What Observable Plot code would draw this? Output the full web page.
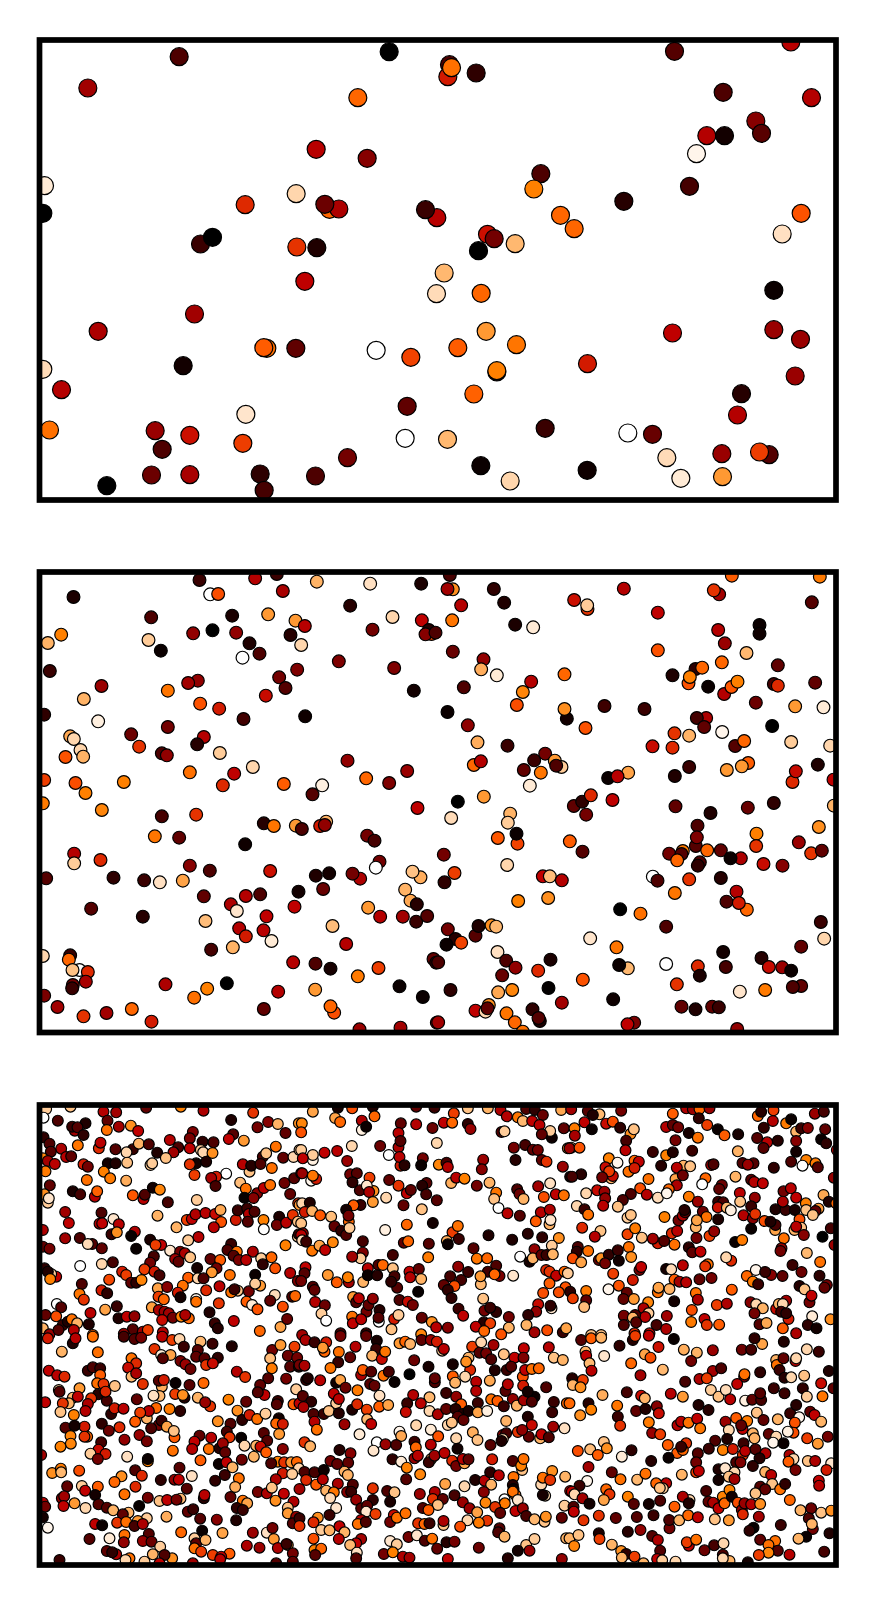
<!DOCTYPE html>
<html><head><meta charset="utf-8">
<style>html,body{margin:0;padding:0;background:#fff}svg{display:block}</style>
<script src="https://cdn.jsdelivr.net/npm/d3@7"></script>
<script src="https://cdn.jsdelivr.net/npm/@observablehq/plot@0.6"></script>
</head><body>
<div id="c"></div>
<script>
// Readings, in triples: x, y (crop pixels at 3x), colour level 0..100.
const top1L=[449,80,20,175,174,42,1079,65,0,985,203,70,860,358,48,1013,385,35,45,467,96,800,491,92,647,524,58,900,538,70,928,537,45,886,523,28,1222,563,48,1188,539,15,40,550,0,513,642,15,549,622,0,802,651,60,862,653,8,826,754,50,495,852,42,206,904,45,712,955,72,703,953,68,799,955,25,1040,961,100,1144,982,63,461,1007,5,40,1018,93,96,1079,47,649,1153,95,1133,1129,25,60,1200,72,377,1202,40,481,1216,53,398,1258,20,640,1240,62,1127,1225,100,954,1283,30,366,1335,28,481,1334,44,232,1367,0,692,1332,12,704,1381,18,858,1338,20];
const top1R=[717,64,22,1066,36,48,42,104,20,37,140,55,48,113,72,122,129,12,863,187,20,1128,203,47,961,273,35,978,310,23,814,317,47,867,317,5,783,371,98,316,431,20,295,477,75,762,469,18,565,514,10,375,556,70,416,596,70,1097,550,66,156,613,53,176,626,30,239,641,86,129,662,0,1040,612,94,26,729,86,3,791,93,137,790,70,1015,781,3,152,904,80,243,944,73,1015,899,40,1095,928,40,711,909,50,67,953,68,184,1026,5,184,1022,75,456,1001,55,1079,1038,40,115,1092,69,918,1091,10,906,1155,47,329,1195,15,36,1228,86,577,1209,100,651,1213,27,136,1307,3,1001,1274,22,972,1266,62,859,1271,40,694,1283,93,455,1321,4,224,1353,92,736,1345,96,861,1340,80];
const mid1L=[510,60,15,677,55,47,742,42,15,862,65,85,1022,71,94,1175,71,7,132,111,7,760,93,44,542,103,100,566,102,65,365,172,20,608,167,7,716,163,80,962,137,10,1089,171,92,798,182,80,826,198,48,1177,181,50,1206,222,65,1198,210,10,1188,223,35,55,249,85,95,224,75,357,240,90,394,272,3,491,220,38,549,211,0,620,218,38,783,225,10,815,255,92,1029,209,30,660,250,8,690,281,20,639,293,100,928,304,33,61,333,15,1094,324,33,803,329,33,749,352,30,505,362,38,476,369,42,768,384,22,216,378,40,415,392,73,163,417,85,1153,392,5,709,407,52,512,431,66,569,446,55,44,464,12,642,477,17,827,469,4,206,484,97,415,501,30,305,523,28,523,531,47,122,529,83,133,537,92,503,553,10,329,560,60,153,570,92,571,579,90,161,590,85,108,591,66,397,580,20,412,586,38,954,602,38,481,637,72,614,641,50,670,621,92,1133,633,40,44,660,62,138,669,65,168,699,75,283,666,75,580,676,58,763,672,68,878,676,97,849,703,22,1010,655,70,1079,669,33,40,730,74,217,750,76,1164,744,50,397,769,18,500,764,60,703,790,10,733,798,73,799,797,80,817,807,20,890,785,85,872,798,55,886,795,38,1013,827,30,1035,842,18,376,829,73,449,833,25,647,853,4,134,881,47,134,910,90,213,900,58,1050,905,30,1039,923,100,481,917,35,541,932,20,722,933,53,50,955,22,252,953,12,344,961,15,391,967,94,460,962,82,859,947,8,899,940,5,992,956,45,969,941,30,1173,952,84,1149,935,88,1127,989,85,807,995,5,881,987,27,523,1009,25,649,1008,47,692,1003,20,604,1033,45,622,1053,95,1143,1022,83,1162,1033,10,185,1046,22,795,1040,50,340,1070,10,711,1069,50,1016,1043,80,1052,1070,47,1120,1070,42,1160,1085,15,1193,1068,22,528,1083,87,909,1098,87,629,1105,47,702,1111,48,649,1129,55,726,1143,96,950,1152,47,545,1169,18,610,1162,85,40,1188,92,122,1186,15,118,1199,70,150,1230,100,129,1230,88,175,1236,58,169,1265,44,130,1275,30,128,1285,15,408,1273,45,592,1270,0,791,1207,47,858,1211,20,903,1226,6,1047,1224,62,985,1249,74,1212,1197,25,1220,1208,15,533,1286,75,494,1313,72,746,1295,47,857,1289,80,1110,1279,3,1180,1311,3,44,1307,32,84,1341,42,162,1369,60,231,1359,42,307,1347,70,366,1385,55,703,1347,25,914,1358,65,903,1339,70,990,1408,40,1113,1403,42,1222,1388,40];
const mid1R=[43,45,18,52,88,78,36,87,42,175,87,12,565,86,47,889,47,68,1153,50,74,206,128,8,77,136,47,416,120,53,456,147,60,455,136,90,667,158,50,851,103,42,835,91,60,1129,127,22,50,181,73,239,194,7,293,202,96,972,195,3,972,221,4,848,210,47,0,218,20,52,275,27,868,250,40,667,271,66,933,279,86,144,298,38,137,328,84,859,307,70,1027,316,25,184,346,96,711,346,8,780,327,12,800,323,70,387,343,70,287,365,47,759,370,66,763,351,75,262,396,76,244,435,65,818,380,3,866,402,47,888,381,67,906,365,75,1015,372,18,1027,377,58,1139,368,25,85,382,20,961,428,28,1079,439,80,1164,442,96,36,456,3,507,438,16,627,447,15,394,476,5,387,447,78,450,504,66,97,496,37,812,474,45,784,474,18,806,501,25,1010,498,0,860,516,98,717,520,60,761,527,85,126,547,84,216,557,15,899,558,22,926,543,70,711,563,58,651,559,52,1067,546,90,1184,557,92,329,581,30,296,601,15,358,602,80,378,621,90,362,617,20,265,630,25,316,638,73,115,615,70,136,604,47,938,609,68,919,619,80,874,630,80,578,638,82,518,654,3,546,649,48,761,621,15,718,648,8,1147,614,8,1071,666,58,1081,634,52,1194,659,50,283,677,96,415,738,25,440,725,12,466,706,58,531,720,50,145,710,80,67,725,0,720,739,25,937,743,27,1015,729,12,825,759,8,1195,737,85,452,764,30,224,761,85,217,788,90,47,774,93,246,851,63,243,821,3,187,834,67,403,844,68,441,875,22,786,797,20,963,821,75,781,858,22,784,832,33,962,858,60,1150,801,78,1090,847,40,742,873,74,701,881,30,738,882,22,815,871,70,856,871,25,725,901,70,916,895,45,885,895,3,1127,880,60,1159,872,25,25,884,30,793,907,20,787,917,12,984,912,52,1041,917,35,215,915,92,57,939,62,27,967,12,322,949,50,343,949,87,379,961,47,652,950,100,666,962,20,761,958,60,856,954,10,718,999,73,248,1023,75,338,1014,78,903,995,47,873,1025,20,934,1049,70,910,1029,55,554,1048,0,615,1061,72,692,1100,20,1156,1086,15,168,1096,78,182,1100,86,120,1127,22,129,1098,8,37,1108,30,60,1137,10,33,1154,3,77,1148,63,464,1135,95,1166,1136,92,543,1162,73,186,1176,94,1097,1160,25,863,1176,5,978,1194,10,212,1202,20,240,1223,38,345,1199,7,8,1207,20,1000,1221,52,1040,1222,40,1067,1232,3,871,1221,18,787,1219,58,793,1247,7,577,1225,86,551,1215,3,692,1212,100,200,1246,27,308,1232,58,442,1259,66,724,1273,60,45,1290,12,339,1284,1,230,1290,76,188,1297,83,989,1290,74,913,1295,95,1097,1278,25,1072,1281,20,533,1318,4,379,1328,42,738,1340,25,780,1348,8,830,1340,25,850,1342,15,120,1352,50,160,1335,78,150,1355,92,156,1345,25,213,1360,73,291,1348,12,313,1383,8,309,1374,22,238,1387,70,262,1415,72,596,1388,32,576,1393,50,905,1407,38,8,1387,42];
const low1A=[50,42,90,123,35,88,222,50,47,260,52,42,350,38,25,454,35,75,522,47,45,671,53,60,42,68,100,85,77,20,234,77,25,232,105,72,268,95,42,304,92,78,326,108,50,136,107,42,128,95,15,168,85,8,144,97,22,162,120,12,605,75,8,716,81,35,745,87,85,684,97,30,768,114,25,808,85,78,42,127,12,60,146,20,95,161,44,64,170,22,145,151,73,208,160,58,213,143,48,258,163,22,310,163,15,328,146,85,358,148,20,291,172,92,421,135,47,490,111,33,481,130,32,519,140,12,552,142,20,481,160,50,446,157,20,432,172,42,383,173,8,409,189,88,611,118,22,598,132,50,643,137,80,514,165,90,521,172,92,549,174,78,739,155,72,700,185,20,710,175,88,110,186,48,125,184,25,40,190,76,55,198,42,76,207,48,48,229,74,162,208,55,175,215,30,235,205,5,258,205,8,293,203,88,363,210,90,368,205,90,223,230,75,242,250,74,290,257,84,172,255,72,500,205,5,530,200,8,481,208,60,495,240,62,590,236,100,560,245,55,545,249,44,660,230,88,640,208,48,665,212,10,693,207,20,727,219,72,761,188,25,792,186,92,810,165,90,558,273,18,765,264,28,794,250,22,815,235,15,61,271,25,45,298,78,55,323,90,58,310,95,130,289,7,152,298,18,196,305,47,203,289,69,310,301,67,342,312,48,346,299,20,370,278,5,391,284,76,415,322,18,502,315,90,632,263,87,649,281,72,645,308,2,683,295,35,672,309,35,703,279,50,722,270,72,782,297,25,806,325,60,107,351,42,118,384,50,216,353,20,210,386,48,218,385,50,252,372,95,268,388,48,384,362,85,472,375,62,487,372,50,498,358,46,528,354,48,557,357,52,573,345,83,575,381,66,553,397,48,619,375,55,625,346,15,653,340,15,658,357,47,655,380,22,675,350,20,702,375,75,703,403,100,749,365,8,742,390,30,770,383,48,790,360,60,805,380,88,40,405,45,107,430,42,151,429,20,188,447,22,175,447,93,217,460,25,246,418,15,262,412,78,316,410,45,305,423,2,362,434,7,395,450,50,378,450,62,320,461,2,441,397,85,476,436,90,507,426,47,40,455,25,60,461,30,768,451,75,805,425,90,808,418,15,605,447,15,422,467,95,452,470,30,466,475,45,437,492,42,447,500,25,482,487,88,373,484,18,362,503,30,594,465,20,622,470,72,670,470,45,612,482,22,628,495,32,650,495,48,695,490,90,726,487,70,700,508,12,737,520,66,543,492,25,572,495,68,250,502,18,217,507,92,152,513,100,45,520,12,80,545,50,65,537,90,55,530,8,62,552,75,503,519,6,561,520,30,547,532,80,601,540,72,345,523,62,375,530,55,390,541,18,278,530,55,290,540,62,239,554,64,305,563,25,320,563,12,336,555,76,476,548,68,505,550,92,522,550,20,782,534,47,805,558,33,677,539,3,157,567,20,150,597,73,163,614,60,216,586,55,233,595,12,385,580,82,413,576,35,460,572,72,445,593,55,530,586,58,570,574,48,625,587,88,605,592,72,615,583,15,658,589,30,692,572,80,677,566,90,736,600,93,788,605,20,797,603,70,82,627,100,95,637,22,48,660,25,80,664,65,183,654,48,227,644,82,262,634,15,387,605,62,403,613,70,367,637,81,453,607,5,500,612,98,500,620,72,568,625,60,651,620,68,668,630,96,684,643,66,722,617,25,760,635,65,40,700,85,100,690,15,115,680,8,127,673,72,143,685,85,133,705,47,60,718,40,87,705,22,178,688,8,190,720,70,267,670,8,292,665,50,315,664,38,388,645,45,405,650,40,418,655,42,430,668,30,398,675,52,455,665,75,478,670,70,467,660,45,540,652,8,613,678,50,556,685,15,565,700,10,691,708,70,753,696,82,773,672,27,400,712,47,310,703,22,340,710,40,355,705,62,283,716,35];
const low1B=[40,50,82,115,38,5,158,40,65,220,35,8,350,35,25,405,38,15,505,40,88,565,40,85,603,45,45,680,42,20,706,45,12,785,45,83,7,85,76,107,69,82,122,81,70,187,77,45,225,64,70,187,105,97,200,95,3,304,85,25,350,88,47,399,99,28,433,83,50,463,55,62,458,83,70,505,87,12,513,102,40,622,64,47,655,67,73,670,78,86,698,78,50,730,60,27,720,90,48,606,111,20,615,109,90,757,128,4,752,108,90,727,118,25,793,100,25,5,112,66,297,114,48,297,157,44,303,138,22,242,153,28,157,153,92,412,144,92,643,158,30,677,150,18,700,164,25,715,165,30,805,160,80,815,158,90,5,165,90,40,195,97,40,180,90,75,173,50,113,168,48,10,190,50,143,198,40,268,180,100,303,212,55,300,186,48,370,190,30,315,211,10,365,211,3,418,209,76,441,203,18,445,216,47,551,194,40,547,223,35,648,195,10,727,195,25,741,200,60,790,215,40,8,235,40,35,257,98,50,252,55,40,242,73,152,238,30,172,235,22,159,262,12,210,248,62,269,255,25,297,272,60,181,286,20,222,288,78,202,272,95,209,291,45,322,295,50,334,285,25,381,264,22,368,272,10,380,298,18,412,316,22,455,264,84,470,248,48,495,251,75,532,272,30,570,263,85,653,283,20,660,297,28,672,312,85,590,293,73,584,312,88,716,274,42,733,306,65,752,265,94,769,298,50,793,301,72,812,245,10,220,321,80,260,308,92,312,331,25,367,343,88,597,339,100,624,355,48,661,362,22,724,352,47,751,344,45,750,388,85,753,375,95,709,379,68,0,330,80,8,325,92,31,323,8,16,351,55,38,348,85,62,361,67,95,365,87,183,330,15,162,331,68,140,344,5,148,380,70,147,362,30,400,384,5,322,389,70,459,412,62,475,393,72,105,394,25,125,407,12,140,420,20,150,399,90,5,385,88,257,405,97,567,421,8,638,434,8,685,416,10,728,427,12,778,429,78,10,415,42,5,420,48,8,436,93,20,440,15,190,439,18,313,443,25,326,439,70,388,446,22,442,438,84,445,448,3,478,432,15,38,467,73,60,452,82,77,465,50,100,442,76,190,473,33,183,490,90,158,485,42,280,480,17,386,487,74,522,460,22,532,491,73,563,490,70,662,485,100,690,500,6,705,463,38,700,490,85,726,480,25,741,480,15,757,452,90,760,478,85,18,517,50,15,535,22,5,558,30,205,520,48,237,510,20,250,510,70,280,520,88,330,530,50,358,522,25,332,547,47,365,552,85,476,515,38,590,512,20,565,530,18,600,543,32,585,538,70,641,542,95,506,531,15,85,540,80,148,562,42,112,562,68,145,547,75,191,561,85,205,541,3,233,541,10,293,578,22,285,544,18,275,560,12,452,544,18,485,555,18,544,568,86,543,544,80,465,573,65,433,570,25,445,585,12,356,590,2,740,525,58,750,530,60,770,542,50,795,530,70,750,565,68,805,535,90,798,577,66,778,592,65,731,594,65,812,590,12,40,575,20,45,585,25,47,621,47,76,631,28,161,606,80,170,622,22,178,610,48,201,650,30,207,630,25,220,611,38,300,615,20,325,620,52,340,630,30,456,609,12,551,611,88,66,656,90,80,677,100,158,665,72,160,685,50,185,673,48,240,645,10,238,680,100,237,668,22,284,672,55,297,660,90,276,703,88,367,668,25,397,681,78,410,697,48,445,698,35,477,641,15,491,662,50,555,647,30,590,651,12,572,638,15,628,666,30,716,628,52,710,650,38,686,660,12,756,640,95,753,632,12,553,682,10,572,685,62,529,695,50,554,708,70,628,698,85,681,690,85,705,712,42,743,706,65,790,712,15,605,718,66,800,700,82,123,715,20,200,715,15,8,720,42,365,718,76];
const low1C=[5,43,42,55,48,22,90,58,86,70,60,8,155,47,30,310,56,68,350,40,45,370,43,40,390,42,70,420,40,40,565,63,70,575,50,10,612,46,62,736,56,40,763,50,18,45,82,50,67,103,3,15,100,74,110,86,52,130,80,65,152,98,12,183,117,78,193,103,88,290,96,47,310,90,25,326,97,30,388,70,12,413,90,62,445,103,3,506,118,6,465,121,68,610,78,47,583,98,12,650,85,74,665,73,3,680,110,85,695,100,15,715,99,35,767,103,25,16,122,44,170,137,18,168,166,48,318,136,30,358,114,6,385,128,72,680,138,35,563,129,22,593,142,48,625,137,10,582,159,22,755,133,3,770,145,12,802,165,50,0,160,40,30,158,66,250,171,15,368,167,15,505,169,85,680,170,5,290,181,75,310,172,8,118,190,75,144,203,98,195,197,70,208,200,50,275,212,10,342,212,85,362,214,88,322,218,48,425,210,45,432,208,20,519,204,20,552,205,22,535,209,40,613,218,12,665,200,20,710,195,75,699,212,100,738,205,74,745,217,22,108,217,52,125,250,85,130,243,52,119,229,62,98,247,30,177,230,72,195,219,55,237,252,72,318,252,82,340,241,28,322,271,45,298,283,70,408,250,70,398,268,100,457,270,28,449,282,25,498,245,85,545,254,22,554,261,47,580,265,50,35,238,10,8,245,18,793,248,38,83,286,52,105,290,40,107,310,38,101,332,48,50,295,92,212,280,65,184,297,20,232,299,47,265,308,93,292,295,98,160,315,20,145,335,88,358,305,74,385,320,40,511,294,48,556,308,38,512,320,88,642,289,30,664,280,48,680,308,50,762,300,83,778,320,8,800,325,70,22,333,92,45,343,15,56,359,72,174,368,90,184,360,88,285,366,75,327,376,30,340,362,45,347,352,25,345,345,10,400,350,28,411,366,72,379,397,85,382,376,82,446,320,15,461,322,20,445,337,53,472,338,86,484,346,97,446,373,8,522,361,47,545,334,15,550,370,35,557,357,60,618,343,8,648,345,15,676,345,6,709,325,75,710,345,88,747,341,80,738,348,25,730,360,88,640,320,45,585,378,65,617,405,82,618,390,18,603,380,8,545,401,3,690,373,65,675,405,85,695,398,88,680,395,48,703,420,35,784,400,18,38,398,58,93,408,88,76,425,47,174,418,63,197,400,74,217,428,88,265,445,55,250,431,42,284,438,22,307,415,58,323,408,48,315,449,72,381,429,30,420,423,62,434,409,38,497,441,3,518,435,74,643,430,72,759,425,0,795,450,40,25,456,20,22,470,12,10,490,65,56,468,72,35,502,82,88,495,25,95,490,78,118,479,12,107,505,30,145,466,15,148,497,5,178,456,72,185,486,78,358,457,12,368,472,25,393,470,50,636,460,40,633,468,30,712,474,86,485,497,58,470,487,92,752,501,72,210,525,30,215,516,50,131,536,62,190,555,55,290,522,6,305,523,93,340,511,48,415,508,72,407,514,60,426,549,30,390,553,25,559,525,98,605,540,35,587,531,15,532,543,70,550,560,74,566,568,15,669,510,15,696,531,28,639,543,25,750,542,12,315,554,68,330,560,42,350,562,48,265,592,72,267,578,82,300,582,85,117,583,98,148,572,66,487,584,68,379,594,72,385,614,45,772,570,30,765,578,25,690,573,10,705,583,88,720,622,30,726,602,50,50,588,74,10,610,62,50,616,25,44,636,87,172,593,25,162,612,25,193,612,80,314,619,5,236,622,76,222,640,45,237,655,90,227,666,48,163,662,30,197,660,20,190,668,85,163,690,20,200,682,22,292,663,42,261,690,18,290,702,45,367,645,65,365,681,74,405,672,50,412,690,60,449,689,68,442,630,62,472,626,45,543,622,35,560,628,92,580,640,85,555,655,30,570,688,22,591,684,83,620,642,52,628,627,85,650,617,42,640,627,92,635,650,18,657,672,55,650,655,12,728,664,96,715,690,12,741,700,5,783,673,78,65,720,88,95,720,88,195,715,58,240,715,52,640,700,68,680,715,45];
const low2A=[55,10,55,130,25,8,138,10,48,190,5,72,283,5,18,315,12,22,335,8,30,398,5,48,428,15,62,450,12,92,513,20,86,549,26,15,607,34,8,97,50,85,205,52,72,375,42,60,463,35,15,395,60,96,423,60,82,400,70,22,505,45,22,500,65,25,525,70,22,565,68,12,530,90,60,550,85,52,453,78,30,468,88,40,483,102,28,306,70,72,320,85,58,296,98,52,306,125,86,320,115,45,175,107,15,190,97,20,212,100,15,212,120,68,58,107,50,83,121,48,105,125,58,622,110,47,647,126,60,728,45,30,753,30,80,795,35,62,722,70,87,775,62,28,803,68,30,782,95,22,808,95,10,727,100,74,716,130,22,770,131,30,203,145,72,222,147,60,256,153,88,150,160,80,340,147,60,397,155,84,388,137,22,403,135,55,438,144,2,480,150,22,522,144,70,88,165,90,90,170,22,130,188,86,145,185,50,118,205,85,100,205,60,93,231,88,47,202,50,206,178,10,185,190,60,232,197,18,175,207,45,168,228,47,228,170,58,322,193,25,390,183,86,372,182,94,465,188,10,437,177,62,460,180,78,505,188,85,542,214,60,527,202,40,597,194,75,650,200,25,692,150,25,705,180,50,685,172,22,745,198,15,742,208,22,792,208,68,800,163,90,810,205,50,133,240,75,245,237,12,255,220,55,282,221,48,380,219,70,420,222,74,452,228,12,352,250,85,358,228,48,332,233,62,317,260,68,388,270,30,396,257,15,365,280,20,412,275,82,435,307,68,433,288,88,165,275,55,108,278,22,135,272,5,173,305,70,165,305,60,123,303,76,124,326,76,93,335,75,217,266,12,238,287,28,270,277,58,285,314,38,330,300,40,352,319,30,565,259,78,624,227,78,638,255,12,660,240,55,683,252,72,708,236,90,748,250,5,740,265,70,760,267,55,603,266,20,592,290,18,600,307,60,749,297,80,703,294,22,713,317,22,510,302,25,545,308,48,495,320,50,488,342,47,538,342,72,635,308,2,645,332,92,570,340,10,580,325,40,587,352,25,680,332,85,693,335,52,710,352,68,673,365,85,760,342,35,215,322,18,207,344,52,228,357,55,183,356,90,205,372,30,430,347,72,293,365,94,355,379,75,355,372,3,513,376,68,35,360,42,568,387,3,591,382,50,609,397,85,637,374,28,745,380,75,725,385,20,764,382,60,785,382,80,802,381,70,808,400,92,68,414,78,94,401,74,95,412,86,149,407,65,317,406,20,337,422,58,276,424,78,255,441,70,450,398,22,487,423,94,628,430,72,760,415,55,788,417,90,739,433,45,394,435,12,435,434,38,448,434,50,557,437,12,586,420,15,472,461,22,617,456,84,113,454,25,157,453,90,167,467,50,205,455,68,318,455,58,285,478,72,197,480,5,97,490,38,104,484,42,135,505,80,102,513,50,40,503,47,355,488,30,523,490,10,525,480,48,453,491,86,390,498,88,413,495,50,441,494,30,603,486,25,685,471,30,712,475,45,727,458,88,763,476,50,738,497,78,792,500,45,47,515,30,168,519,92,207,508,22,232,518,22,251,526,85,329,513,2,640,497,72,653,505,82,622,519,12,640,525,15,775,518,88,775,535,80,800,545,38,475,530,25,491,523,15,411,545,84,512,551,22,562,554,35,620,556,8,790,565,22,810,550,15,40,547,5,297,533,85,280,538,25,263,563,60,290,561,72,352,550,90,325,558,80,315,573,18,340,567,45,197,567,50,218,571,3,55,578,98,518,587,3,455,592,70,579,594,82,670,593,40,712,593,94,729,579,30,733,612,80,180,612,22,240,610,96,285,600,72,283,622,38,358,597,22,340,618,40,366,620,28,495,610,90,500,625,25,528,615,85,495,640,72,515,650,62,652,632,45,690,638,40,745,639,45,775,630,80,771,627,15,790,655,30,232,648,25,260,658,45,248,652,12,392,635,90,370,658,85,428,670,78,405,660,20,300,670,72,288,675,92,345,680,90,90,675,15,550,660,62,600,656,68,575,665,50,572,673,48,740,685,22,790,680,25,490,685,42,390,685,50];
const low2B=[18,15,45,45,22,15,80,22,55,75,50,70,70,38,80,123,3,30,118,51,72,168,35,47,200,3,25,232,17,6,230,42,15,218,62,85,247,72,52,257,50,73,152,67,25,116,82,15,93,99,73,300,25,80,317,20,70,332,27,85,366,15,25,394,15,40,412,20,55,428,47,90,433,42,48,344,76,28,387,95,6,518,35,62,545,22,92,540,53,22,560,55,30,575,73,20,582,30,42,613,58,88,645,68,50,673,40,50,672,68,33,748,37,47,763,68,88,790,75,85,0,90,30,15,92,45,185,120,45,190,105,68,215,110,22,252,122,72,268,110,18,285,141,2,330,118,0,20,135,15,25,130,8,62,136,48,110,143,5,122,135,82,138,158,27,174,166,74,212,147,22,225,152,25,460,88,6,512,105,58,507,68,85,500,80,78,460,124,68,467,143,85,497,125,92,406,142,20,406,130,25,530,140,48,571,137,83,586,106,8,622,105,15,635,95,22,670,125,66,677,105,50,697,102,72,718,100,70,740,157,20,618,168,22,625,148,47,530,168,47,671,152,55,10,183,22,35,200,12,12,216,45,103,176,50,110,205,90,118,192,48,158,224,8,173,208,58,202,224,62,240,182,94,239,215,68,266,210,82,440,174,15,470,185,38,341,180,47,390,187,86,323,205,15,364,205,48,319,231,52,575,193,72,594,198,68,640,192,38,613,214,15,535,204,15,652,212,85,673,196,42,705,185,3,685,170,5,697,200,20,763,201,15,802,205,70,42,237,20,45,260,47,52,284,72,73,237,15,88,228,88,118,235,10,135,268,40,203,253,86,215,267,50,390,228,92,415,238,45,440,222,25,485,208,68,468,222,10,490,237,10,507,228,6,475,245,22,445,270,92,457,263,88,492,255,25,535,232,82,563,228,97,758,232,15,620,258,85,685,245,8,697,270,52,761,275,42,795,280,94,655,291,60,722,310,85,726,298,50,748,307,20,688,305,25,668,285,38,610,300,35,620,295,18,180,298,96,300,290,98,305,303,83,350,271,92,394,284,96,416,304,66,520,292,84,534,315,88,470,310,92,610,312,92,606,318,8,573,330,22,15,322,60,32,334,85,232,322,100,222,347,95,258,328,40,290,330,20,345,320,15,349,337,70,394,329,47,474,341,5,120,345,10,153,355,35,93,378,30,113,387,25,146,383,25,279,373,12,305,380,96,345,370,38,355,362,48,395,372,85,388,382,15,405,362,42,435,354,48,458,377,58,470,393,30,495,385,82,490,372,48,507,373,25,578,373,55,640,378,20,668,405,88,665,392,75,672,372,72,322,398,75,362,418,76,135,410,85,145,420,85,15,411,20,45,412,18,73,405,4,320,433,22,20,435,58,50,449,68,70,433,47,115,446,44,160,449,20,437,447,82,527,435,8,495,454,92,555,437,47,575,449,85,572,412,12,598,421,48,642,426,72,725,449,92,730,428,72,758,408,78,752,435,60,797,425,85,0,462,42,143,471,35,80,467,85,103,472,73,92,489,93,155,470,15,220,460,60,263,468,20,285,472,88,170,494,40,220,495,12,272,500,7,361,477,40,406,471,45,400,492,60,430,492,25,465,481,18,490,502,40,553,471,35,640,450,10,642,462,4,648,480,70,737,482,92,730,480,6,812,468,50,640,470,72,615,493,100,655,495,95,616,505,74,415,510,88,558,503,76,587,516,60,510,520,40,533,532,82,110,519,95,90,540,15,185,520,22,203,512,25,200,530,95,228,537,62,370,519,22,387,525,68,648,528,50,670,520,40,680,543,18,602,534,25,735,560,88,705,553,86,739,545,78,795,512,90,787,548,25,55,548,78,42,562,58,0,573,60,65,585,90,90,586,85,120,574,50,135,592,85,185,555,48,175,567,72,199,561,20,283,540,52,272,561,30,292,548,72,318,535,72,356,565,60,375,567,70,390,565,15,432,570,88,432,558,45,504,556,92,563,557,60,538,563,74,482,575,65,42,611,65,118,612,47,185,612,42,170,625,50,152,630,86,327,606,30,352,601,95,376,617,20,398,611,72,600,580,22,596,592,20,615,605,85,680,630,88,705,612,90,690,647,40,800,610,85,272,618,95,292,628,90,413,641,25,441,622,10,465,620,30,538,638,28,655,647,5,45,645,75,65,641,70,47,660,22,172,653,94,170,670,22,253,657,30,280,652,75,310,665,45,330,668,42,445,672,50,625,670,10,787,672,38];
const low2C=[35,15,22,65,10,68,95,8,85,150,32,12,190,15,10,197,3,62,238,2,50,267,36,53,313,12,2,343,44,84,382,53,85,430,46,40,517,44,28,545,44,18,578,27,82,555,10,12,643,20,8,712,43,92,748,50,15,48,50,85,50,62,50,104,63,95,60,85,86,66,107,48,185,85,70,226,58,82,243,68,65,365,78,30,280,104,86,213,121,42,430,108,42,455,100,20,524,125,30,525,118,72,572,112,12,390,132,45,412,130,62,347,140,18,620,75,85,622,90,72,642,70,25,678,78,45,680,70,92,630,105,15,645,128,10,665,127,92,704,122,88,778,108,8,755,145,52,700,160,12,712,185,90,613,160,15,645,175,15,8,130,10,40,135,62,10,150,85,33,157,78,99,180,84,172,172,18,215,182,52,226,190,85,304,176,47,340,185,80,424,165,90,447,185,88,469,165,93,482,193,48,503,147,50,527,197,97,548,194,25,575,195,18,572,175,22,759,184,73,792,160,25,0,205,70,57,205,10,65,224,75,32,241,78,143,212,73,145,245,15,152,272,60,200,228,25,228,222,8,262,214,35,268,235,52,238,262,74,248,294,40,272,298,62,387,210,8,417,225,10,662,235,15,680,210,10,689,247,98,722,230,25,735,240,50,755,260,85,676,263,66,672,293,65,562,233,88,582,255,25,625,253,85,468,260,40,500,249,68,533,258,74,519,282,50,515,271,25,478,285,92,324,271,47,335,260,48,357,263,72,383,251,50,392,280,73,550,295,85,555,310,85,598,297,25,620,305,92,611,323,98,642,325,3,655,290,97,713,310,62,745,326,80,775,305,30,437,317,20,473,312,8,522,325,15,295,330,68,350,325,60,323,354,68,340,345,70,335,335,15,297,368,3,186,346,12,157,365,96,25,348,65,62,343,87,85,360,68,103,321,88,112,340,78,385,355,22,418,341,15,460,345,75,490,342,55,520,360,60,527,348,48,558,343,22,588,355,45,570,370,10,550,393,12,500,382,20,513,382,33,380,382,30,245,378,10,660,360,45,672,372,92,657,380,68,715,378,88,737,378,45,678,405,30,785,385,95,771,405,55,57,396,42,127,412,25,153,433,72,203,434,86,228,416,72,337,419,85,380,412,62,388,408,50,447,403,8,467,400,95,495,412,92,478,425,88,447,435,5,495,432,42,587,411,85,605,420,48,53,438,98,30,452,15,7,470,50,15,478,92,110,463,70,120,478,60,103,495,82,39,490,42,60,506,5,290,445,50,260,445,70,280,460,90,271,459,88,608,447,88,632,463,72,647,447,12,572,455,22,587,463,25,748,437,50,749,452,47,175,485,75,193,507,22,238,507,5,272,497,20,360,495,92,340,485,45,358,505,8,315,515,68,410,468,18,417,500,25,431,503,45,447,520,50,460,485,75,465,505,70,480,465,75,487,485,5,505,503,65,517,525,38,525,505,40,545,508,47,572,507,78,558,475,88,520,538,58,568,545,42,661,495,70,12,515,20,13,530,50,42,556,60,88,542,60,139,549,25,202,546,22,252,541,15,300,580,30,299,555,20,329,556,85,356,541,70,385,547,50,436,553,88,478,556,80,693,526,85,725,520,28,755,533,88,785,527,78,718,550,20,730,582,30,727,567,85,710,605,3,687,611,85,780,595,8,88,595,8,90,612,62,175,590,10,213,585,38,248,603,22,265,615,45,0,610,85,27,600,88,14,633,76,127,629,85,358,632,50,352,622,62,380,614,72,434,631,18,462,625,92,405,646,28,460,659,20,272,647,22,552,578,2,540,587,12,572,614,25,617,618,72,625,647,22,597,630,72,597,653,76,568,660,62,660,659,47,634,570,15,764,650,18,155,648,78,170,657,12,157,668,85,195,665,62,263,672,50,278,676,90,222,685,85,318,680,92,480,678,85,535,682,5,460,670,92];

// Crop origins in the reference, frame edges, and dot sizes of each panel.
const panels=[
  {crops:[[top1L,30,30],[top1R,436,30]],y0:40,y1:500,r:9,top:39.5,h:536},
  {crops:[[mid1L,30,560],[mid1R,436,560]],y0:572,y1:1032.5,r:6.4,top:35.5,h:532},
  {crops:[[low1A,30,1095],[low1B,300,1095],[low1C,570,1095],[low2A,30,1335],[low2B,300,1335],[low2C,570,1335]],y0:1105,y1:1565,r:5.4,top:36.5,h:537}
];
const x0=40,x1=836.5;
const gistHeat=t=>`rgb(${Math.round(255*Math.min(1,1.5*t))},${Math.round(255*Math.max(0,2*t-1))},${Math.round(255*Math.max(0,4*t-3))})`;
const root=document.getElementById("c");
for(const p of panels){
  const pts=[];
  for(const [a,ox,oy] of p.crops) for(let i=0;i+2<a.length;i+=3) pts.push({x:ox+a[i]/3,y:oy+a[i+1]/3,c:a[i+2]});
  root.append(Plot.plot({
    width:876,height:p.h,
    marginLeft:x0-1,marginRight:876-x1+1,marginTop:p.top,marginBottom:p.h-p.top-(p.y1-p.y0),
    x:{axis:null,domain:[x0,x1]},
    y:{axis:null,domain:[p.y1,p.y0]},
    color:{type:"linear",domain:[0,100],interpolate:gistHeat},
    style:{background:"#fff"},
    marks:[
      Plot.dot(pts,{x:"x",y:"y",r:p.r,fill:"c",stroke:"#000",strokeWidth:1.2,clip:true}),
      Plot.frame({stroke:"#000",strokeWidth:5.7})
    ]
  }));
}
</script>
</body></html>
